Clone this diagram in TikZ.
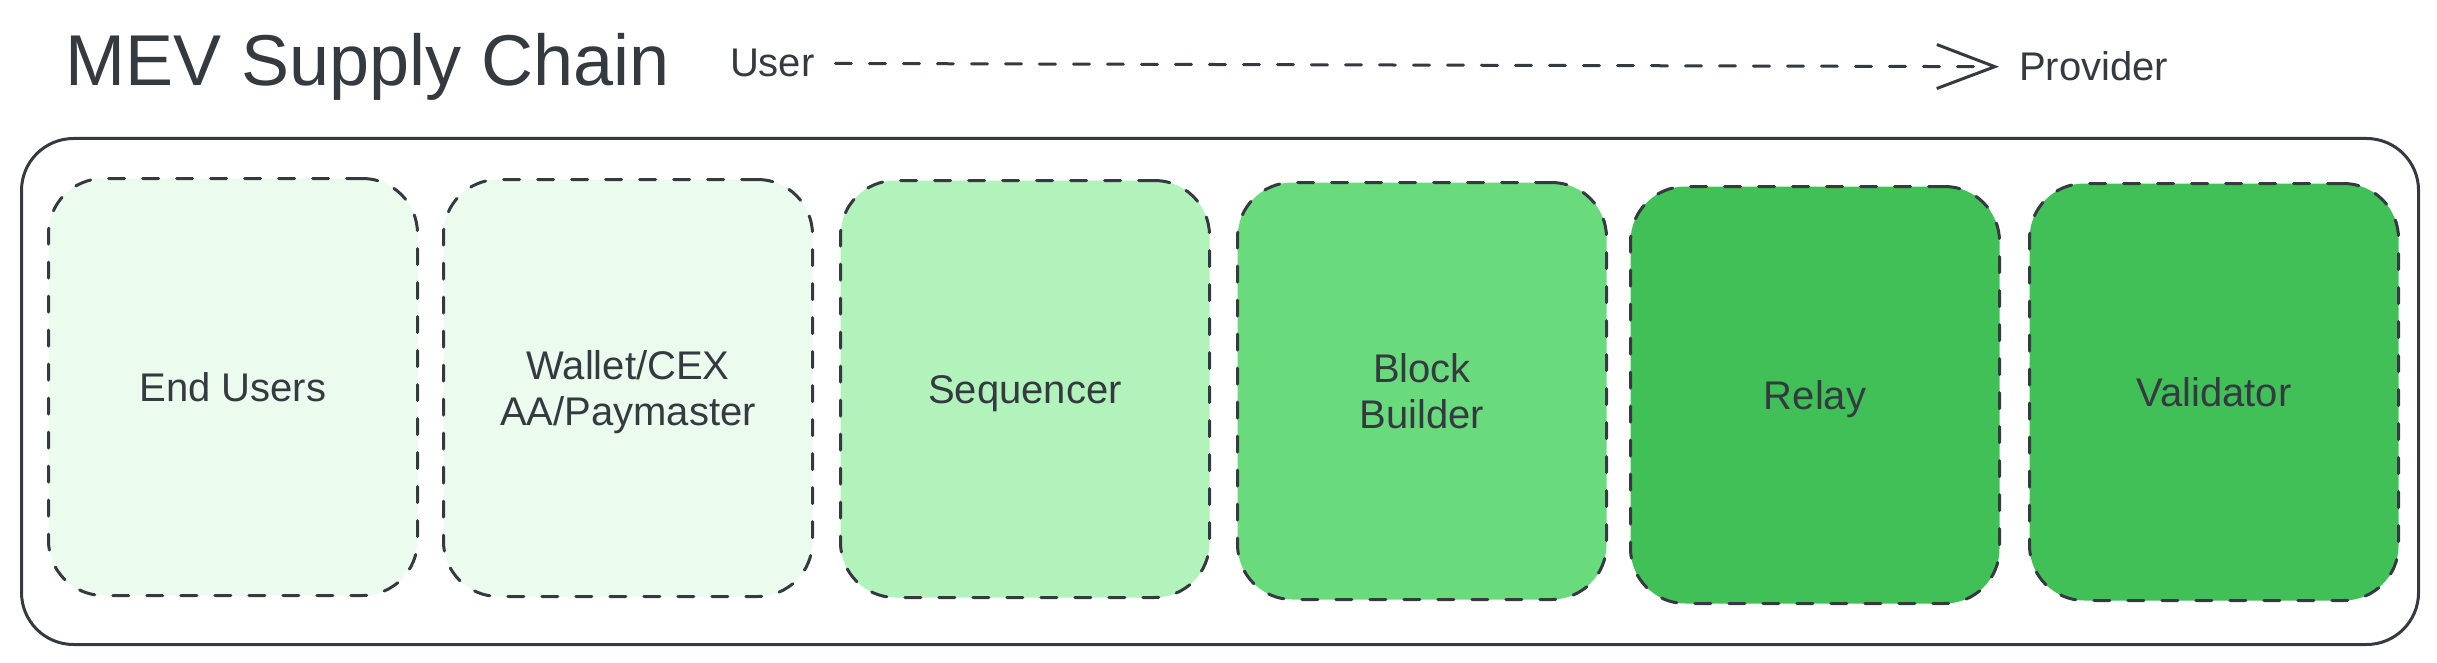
\documentclass[tikz,border=0pt]{standalone}
\usepackage{fontspec}
\setmainfont{Liberation Sans}
\usetikzlibrary{arrows.meta}
\definecolor{ink}{HTML}{343A40}
\definecolor{gzero}{HTML}{EBFBEE}
\definecolor{gtwo}{HTML}{B2F2BB}
\definecolor{gfour}{HTML}{69DB7C}
\definecolor{gsix}{HTML}{40C057}
\begin{document}
\begin{tikzpicture}[x=1bp,y=-1bp,
  stagebox/.style={draw=ink, line width=3bp, dash pattern=on 16bp off 18bp, line cap=round,
    rounded corners=55bp, minimum width=369bp, minimum height=417bp, inner sep=0pt,
    anchor=north west},
  lbl/.style={text=ink, font=\fontsize{40bp}{46bp}\selectfont, align=center, inner sep=0pt},
  frame/.style={draw=ink, line width=3bp, rounded corners=52bp, inner sep=0pt, anchor=north west},
  dashline/.style={draw=ink, line width=3bp, dash pattern=on 16bp off 18bp, line cap=round},
]
\useasboundingbox (0,0) rectangle (2437,663);

% title and legend
\node[text=ink, font=\fontsize{72bp}{80bp}\selectfont, inner sep=0pt, anchor=base west] (title) at (65,86) {MEV Supply Chain};
\node[lbl, anchor=base west, outer sep=21bp] (user) at (709,77) {User};
\node[lbl, anchor=base west, outer sep=20bp] (provider) at (1999,81) {Provider};
\draw[dashline, -{Straight Barb[length=58bp, width=44bp, line width=3bp]}] (user.east) -- (provider.west);

% outer frame
\node[frame, minimum width=2397bp, minimum height=506bp] (outer) at (20,137) {};

% stages
\node[stagebox, fill=gzero] (b1) at (47,177) {};
\node[stagebox, fill=gzero] (b2) at (442,178) {};
\node[stagebox, fill=gtwo]  (b3) at (839,179) {};
\node[stagebox, fill=gfour] (b4) at (1236,181) {};
\node[stagebox, fill=gsix]  (b5) at (1629,185) {};
\node[stagebox, fill=gsix]  (b6) at (2028,182) {};

\node[lbl, anchor=base] (t1) at ([yshift=-14.3bp]b1.center) {End Users};
\node[lbl, anchor=base] (t2) at ([yshift=-37.3bp]b2.center) {Wallet/CEX\\AA/Paymaster};
\node[lbl, anchor=base] (t3) at ([yshift=-14.3bp]b3.center) {Sequencer};
\node[lbl, anchor=base] (t4) at ([yshift=-37.3bp]b4.center) {Block\\Builder};
\node[lbl, anchor=base] (t5) at ([yshift=-14.3bp]b5.center) {Relay};
\node[lbl, anchor=base] (t6) at ([yshift=-14.3bp]b6.center) {Validator};
\end{tikzpicture}
\end{document}
